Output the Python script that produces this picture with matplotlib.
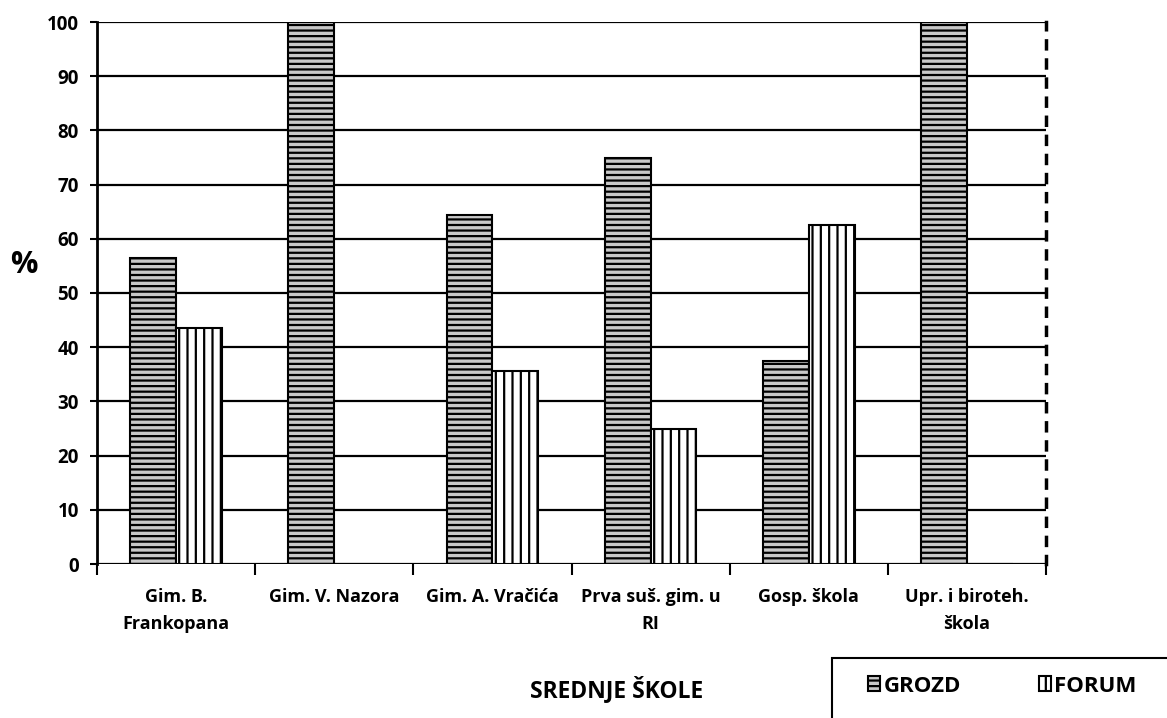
"""Udio učenika po srednjim školama: GROZD vs FORUM."""

import matplotlib
matplotlib.use("Agg")
import matplotlib.pyplot as plt
from matplotlib.patches import Rectangle
import numpy as np

plt.rcParams["font.family"] = ["Open Sans", "DejaVu Sans"]
plt.rcParams["font.weight"] = "bold"

schools = [
    "Gim. B.\nFrankopana",
    "Gim. V. Nazora",
    "Gim. A. Vračića",
    "Prva suš. gim. u\nRI",
    "Gosp. škola",
    "Upr. i biroteh.\nškola",
]
grozd = [56.5, 100, 64.3, 75, 37.5, 100]
forum = [43.5, 0, 35.7, 25, 62.5, 0]
yticks = list(range(0, 101, 10))

W, H = 1167, 718
fig = plt.figure(figsize=(W / 100, H / 100), dpi=100)
ax = fig.add_axes([97 / W, 1 - 564 / H, 949 / W, 542 / H])

x = np.arange(len(schools))
w = 0.29

# Horizontal grid lines in solid black behind the bars.
for v in yticks:
    ax.axhline(v, color="black", lw=1.6, zorder=0)

plt.rcParams["hatch.linewidth"] = 1.6
b1 = ax.bar(x - w / 2, grozd, w, facecolor="#c8c8c8", edgecolor="#2a2a2a",
            hatch="---", lw=1.5, zorder=2, label="GROZD")
b2 = ax.bar(x + w / 2, forum, w, facecolor="white", edgecolor="#333333",
            hatch="||", lw=1.5, zorder=2, label="FORUM")
# hatch colour is taken from the edgecolor at creation; outlines go back to black
for p in list(b1) + list(b2):
    p.set_edgecolor("black")

ax.set_xlim(-0.5, len(schools) - 0.5)
ax.set_ylim(0, 100)
ax.set_yticks(yticks)
ax.tick_params(axis="y", length=5, width=1.5, labelsize=13.5, pad=8)

ax.set_xticks(np.arange(len(schools) + 1) - 0.5)
ax.set_xticklabels([])
ax.set_xticks(x, minor=True)
ax.set_xticklabels(schools, minor=True, fontsize=13, linespacing=1.68)
ax.tick_params(axis="x", which="major", length=8, width=1.5)
ax.tick_params(axis="x", which="minor", length=0, pad=17)

for side in ("top", "bottom"):
    ax.spines[side].set_visible(False)
ax.spines["left"].set_linewidth(2)
ax.spines["right"].set_linewidth(2.5)
ax.spines["right"].set_linestyle((0, (2.3, 3.2)))

fig.text(24 / W, 1 - 265 / H, "%", fontsize=22, ha="center", va="center")
fig.text(617 / W, 1 - 690 / H, "SREDNJE ŠKOLE", fontsize=16.5,
         ha="center", va="center")

fig.patches.append(Rectangle((832 / W, -0.1), 0.5, 1 - 658 / H + 0.1,
                             transform=fig.transFigure, fill=False,
                             lw=1.5, edgecolor="black"))
fig.legend(loc="center left", bbox_to_anchor=(868 / W, 1 - 686 / H),
           ncol=2, frameon=False, fontsize=16, handlelength=0.55,
           handleheight=0.65, handletextpad=0.15, columnspacing=3.5,
           borderpad=0, borderaxespad=0)

fig.savefig("out.png", dpi=100)
